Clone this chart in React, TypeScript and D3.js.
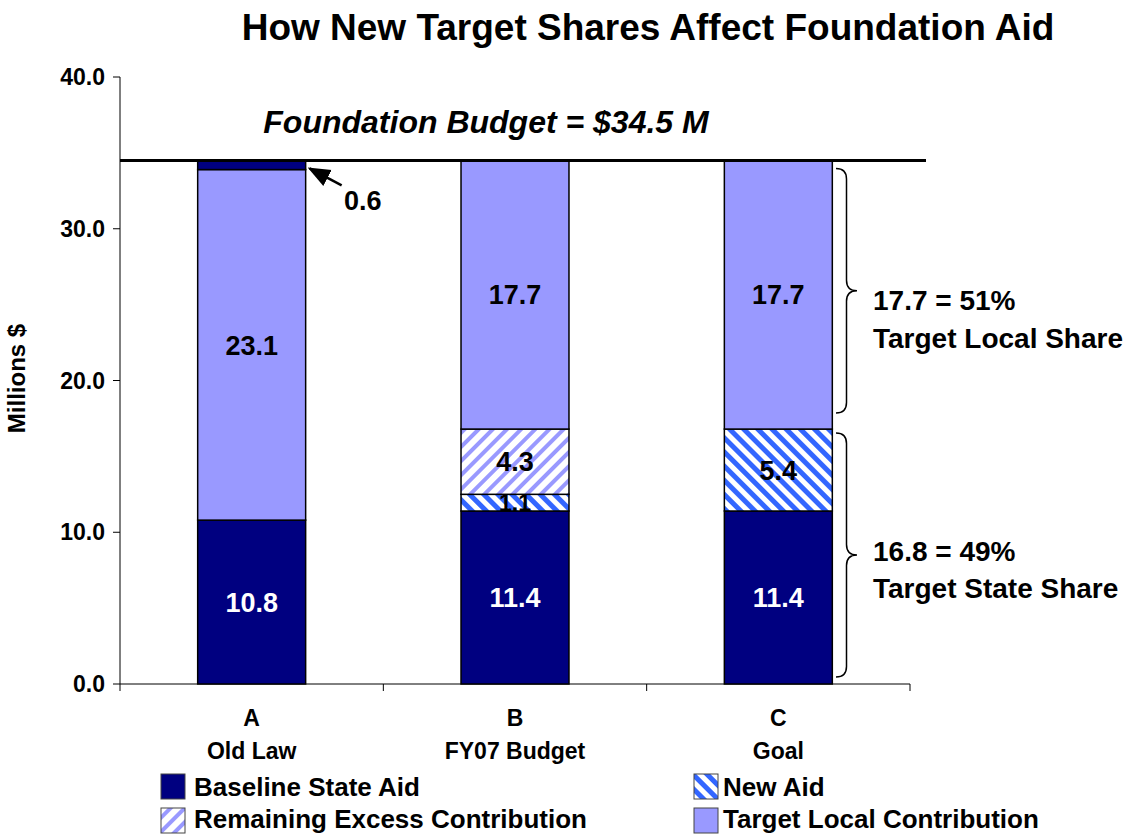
import React from "react";
import * as d3 from "d3";

const categories = ["A", "B", "C"];
const categoryNames = ["Old Law", "FY07 Budget", "Goal"];
const baselineStateAid = [10.8, 11.4, 11.4];
const newAid = [0, 1.1, 5.4];
const remainingExcess = [0, 4.3, 0];
const targetLocal = [23.1, 17.7, 17.7];
const excessLocal = [0.6, 0, 0];
const yTicks = [0, 10, 20, 30, 40];
const foundationBudget = 34.5;
const targetLocalShare = 17.7;
const targetStateShare = 16.8;

const W = 1137;
const H = 835;
const FONT = "'Liberation Sans', Arial, Helvetica, sans-serif";

const NAVY = "#000080";
const LOCAL = "#9999FF";
const NEWAID = "#3366FF";

export default function App() {
  const x = d3.scaleBand<string>().domain(categories).range([120, 910]).padding(0);
  const y = d3.scaleLinear().domain([0, 40]).range([684, 77]);
  const barW = x.bandwidth() * 0.41;

  type Seg = { key: string; v: number; fill: string; label: string; labelColor: string; fontSize: number };
  const stacks = categories.map((c, i) => {
    const segs: Seg[] = [
      { key: "base", v: baselineStateAid[i], fill: NAVY, label: baselineStateAid[i].toFixed(1), labelColor: "#fff", fontSize: 27 },
      { key: "new", v: newAid[i], fill: "url(#hatchNew)", label: newAid[i].toFixed(1), labelColor: "#000", fontSize: newAid[i] < 2 ? 23 : 27 },
      { key: "rem", v: remainingExcess[i], fill: "url(#hatchRem)", label: remainingExcess[i].toFixed(1), labelColor: "#000", fontSize: 27 },
      { key: "local", v: targetLocal[i], fill: LOCAL, label: targetLocal[i].toFixed(1), labelColor: "#000", fontSize: 27 },
      { key: "excess", v: excessLocal[i], fill: NAVY, label: "", labelColor: "#000", fontSize: 27 },
    ];
    let acc = 0;
    return segs
      .filter((s) => s.v > 0)
      .map((s) => {
        const y0 = acc;
        acc += s.v;
        return { ...s, y0, y1: acc };
      });
  });

  const cx = (c: string) => (x(c) as number) + x.bandwidth() / 2;

  const brace = (bx: number, y1: number, y2: number, w: number) => {
    const q = w / 2;
    const ym = (y1 + y2) / 2;
    return `M${bx},${y1} Q${bx + q},${y1} ${bx + q},${y1 + q} L${bx + q},${ym - q} Q${bx + q},${ym} ${bx + w},${ym} Q${bx + q},${ym} ${bx + q},${ym + q} L${bx + q},${y2 - q} Q${bx + q},${y2} ${bx},${y2}`;
  };

  const aRight = cx("A") + barW / 2;
  const topY = y(foundationBudget);

  return (
    <svg width={W} height={H} style={{ display: "block", position: "absolute", left: 0, top: 0 }} fontFamily={FONT}>
      <defs>
        <pattern id="hatchNew" patternUnits="userSpaceOnUse" width="10" height="10" patternTransform="rotate(-45)">
          <rect width="10" height="10" fill="#fff" />
          <rect x="0" y="0" width="5" height="10" fill={NEWAID} />
        </pattern>
        <pattern id="hatchRem" patternUnits="userSpaceOnUse" width="10" height="10" patternTransform="rotate(45)">
          <rect width="10" height="10" fill="#fff" />
          <rect x="0" y="0" width="4" height="10" fill={LOCAL} />
        </pattern>
        <marker id="arrow" viewBox="0 0 10 10" refX="9" refY="5" markerWidth="9" markerHeight="9" orient="auto-start-reverse">
          <path d="M0,1 L10,5 L0,9 Z" fill="#000" />
        </marker>
      </defs>
      <rect width={W} height={H} fill="#fff" />

      <text x={648} y={40} textAnchor="middle" fontSize={37} fontWeight="bold">
        How New Target Shares Affect Foundation Aid
      </text>

      {/* Y axis */}
      <line x1={120} x2={120} y1={y(40)} y2={y(0)} stroke="#000" strokeWidth={1} />
      {yTicks.map((t) => (
        <g key={t}>
          <line x1={113} x2={120} y1={y(t)} y2={y(t)} stroke="#000" />
          <text x={105} y={y(t) + 8} textAnchor="end" fontSize={23} fontWeight="bold">
            {t.toFixed(1)}
          </text>
        </g>
      ))}
      <text transform={`translate(25,${(y(0) + y(40)) / 2 - 2}) rotate(-90)`} textAnchor="middle" fontSize={24} fontWeight="bold">
        Millions $
      </text>

      {/* X axis */}
      <line x1={120} x2={910} y1={y(0)} y2={y(0)} stroke="#000" />
      {[...categories.map((c) => x(c) as number), 910].map((px, i) => (
        <line key={i} x1={px} x2={px} y1={y(0)} y2={y(0) + 7} stroke="#000" />
      ))}
      {categories.map((c, i) => (
        <g key={c}>
          <text x={cx(c)} y={726} textAnchor="middle" fontSize={23} fontWeight="bold">
            {c}
          </text>
          <text x={cx(c)} y={759} textAnchor="middle" fontSize={23} fontWeight="bold">
            {categoryNames[i]}
          </text>
        </g>
      ))}

      {/* Bars */}
      {stacks.map((segs, i) =>
        segs.map((s) => (
          <g key={categories[i] + s.key}>
            <rect
              x={cx(categories[i]) - barW / 2}
              y={y(s.y1)}
              width={barW}
              height={y(s.y0) - y(s.y1)}
              fill={s.fill}
              stroke="#000"
              strokeWidth={1.5}
            />
            {s.label && (
              <text
                x={cx(categories[i])}
                y={(y(s.y0) + y(s.y1)) / 2 + s.fontSize * 0.36}
                textAnchor="middle"
                fontSize={s.fontSize}
                fontWeight="bold"
                fill={s.labelColor}
              >
                {s.label}
              </text>
            )}
          </g>
        ))
      )}

      {/* Budget line */}
      <line x1={120} x2={926} y1={topY} y2={topY} stroke="#000" strokeWidth={3} />
      <text x={486} y={133} textAnchor="middle" fontSize={32} fontWeight="bold" fontStyle="italic">
        Foundation Budget = $34.5 M
      </text>

      {/* 0.6 annotation */}
      <line x1={aRight + 36} x2={aRight + 4} y1={topY + 25} y2={topY + 8} stroke="#000" strokeWidth={2.5} markerEnd="url(#arrow)" />
      <text x={344} y={210} fontSize={27} fontWeight="bold">
        {excessLocal[0].toFixed(1)}
      </text>

      {/* Braces */}
      <path d={brace(836, topY + 8, y(targetStateShare) - 16, 21)} fill="none" stroke="#000" strokeWidth={1.5} />
      <path d={brace(836, y(targetStateShare) + 4, y(0) - 7, 21)} fill="none" stroke="#000" strokeWidth={1.5} />
      <text x={873} y={310} fontSize={28} fontWeight="bold">
        {`${targetLocalShare.toFixed(1)} = ${Math.round((targetLocalShare / foundationBudget) * 100)}%`}
      </text>
      <text x={873} y={348} fontSize={28} fontWeight="bold">
        Target Local Share
      </text>
      <text x={873} y={561} fontSize={28} fontWeight="bold">
        {`${targetStateShare.toFixed(1)} = ${Math.round((targetStateShare / foundationBudget) * 100)}%`}
      </text>
      <text x={873} y={598} fontSize={28} fontWeight="bold">
        Target State Share
      </text>

      {/* Legend */}
      <g>
        <rect x={161} y={774} width={24} height={25} fill={NAVY} stroke="#444" strokeWidth={1} />
        <text x={194} y={796} fontSize={26} fontWeight="bold">Baseline State Aid</text>
        <rect x={161} y={808} width={24} height={25} fill="url(#hatchRem)" stroke="#444" strokeWidth={1} />
        <text x={194} y={828} fontSize={26} fontWeight="bold">Remaining Excess Contribution</text>
        <rect x={694} y={774} width={24} height={25} fill="url(#hatchNew)" stroke="#444" strokeWidth={1} />
        <text x={723} y={796} fontSize={26} fontWeight="bold">New Aid</text>
        <rect x={694} y={808} width={24} height={25} fill={LOCAL} stroke="#444" strokeWidth={1} />
        <text x={723} y={828} fontSize={26} fontWeight="bold">Target Local Contribution</text>
      </g>
    </svg>
  );
}
